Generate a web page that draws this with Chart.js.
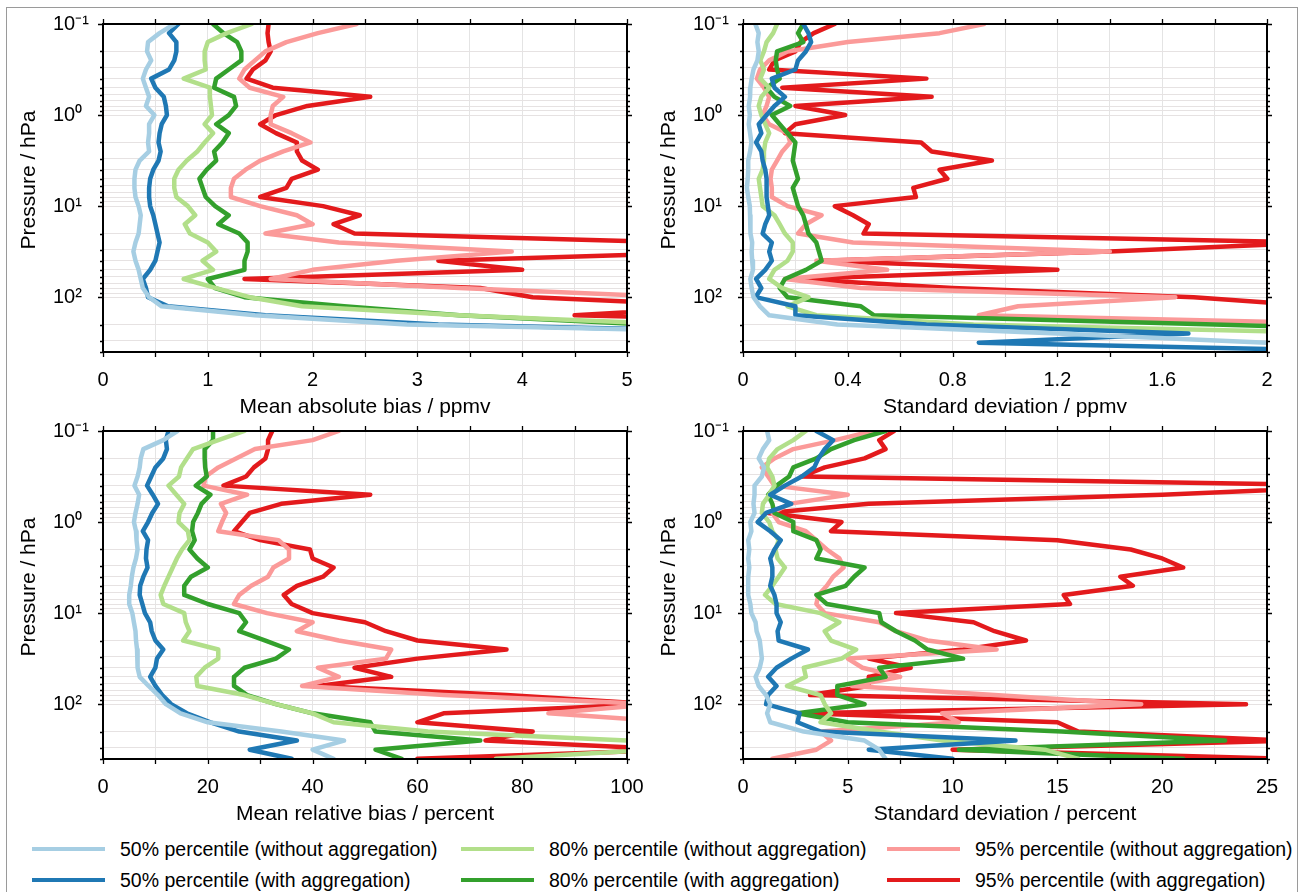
<!DOCTYPE html>
<html lang="en">
<head>
  <meta charset="utf-8">
  <title>Percentile profiles</title>
  <style>
    body { margin: 0; background: #fff; font-family: 'Liberation Sans', Arial, sans-serif; color: #000; }
    #fig { position: relative; width: 1303px; height: 892px; overflow: hidden; }
    #fig canvas { position: absolute; }
    .frame { position: absolute; left: 6px; top: 7px; width: 1290px; height: 900px; border: 1px solid #9a9a9a; }
    .ytitle { position: absolute; font-size: 21px; white-space: nowrap; transform: translate(-50%, -50%) rotate(-90deg); }
    .xtitle { position: absolute; font-size: 21px; white-space: nowrap; transform: translate(-50%, -50%); }
    .lg-line { position: absolute; width: 73px; height: 4px; margin-top: -2px; }
    .lg-text { position: absolute; font-size: 19.5px; white-space: nowrap; transform: translateY(-50%); }
  </style>
</head>

<body>
<div id="fig">
  <div class="frame"></div>
  <canvas id="c1" width="651" height="400" style="left:0;top:0"></canvas>
  <canvas id="c2" width="652" height="400" style="left:651px;top:0"></canvas>
  <canvas id="c3" width="651" height="410" style="left:0;top:400px"></canvas>
  <canvas id="c4" width="652" height="410" style="left:651px;top:400px"></canvas>

  <div class="ytitle" style="left:28px;top:180px">Pressure / hPa</div>
  <div class="ytitle" style="left:668px;top:180px">Pressure / hPa</div>
  <div class="ytitle" style="left:28px;top:587px">Pressure / hPa</div>
  <div class="ytitle" style="left:668px;top:587px">Pressure / hPa</div>

  <div class="xtitle" style="left:365px;top:406px">Mean absolute bias / ppmv</div>
  <div class="xtitle" style="left:1005px;top:406px">Standard deviation / ppmv</div>
  <div class="xtitle" style="left:365px;top:813px">Mean relative bias / percent</div>
  <div class="xtitle" style="left:1005px;top:813px">Standard deviation / percent</div>

  <div id="legend"></div>
</div>

<script src="https://cdn.jsdelivr.net/npm/chart.js"></script>
<script>
// pressure levels (hPa) shared by all profiles
const pressure = [0.1, 0.126, 0.158, 0.2, 0.251, 0.316, 0.398, 0.501, 0.631, 0.794,
  1, 1.26, 1.58, 2, 2.51, 3.16, 3.98, 5.01, 6.31, 7.94,
  10, 12.6, 15.8, 20, 25.1, 31.6, 39.8, 50.1, 63.1, 79.4,
  100, 126, 158, 200, 251, 316, 398];

const pressureTicks = [0.1, 0.2, 0.3, 0.4, 0.5, 0.6, 0.7, 0.8, 0.9,
  1, 2, 3, 4, 5, 6, 7, 8, 9, 10, 20, 30, 40, 50, 60, 70, 80, 90,
  100, 200, 300, 400];
const pressureLabels = {0.1: '10⁻¹', 1: '10⁰', 10: '10¹', 100: '10²'};

const seriesNames = [
  '50% percentile (without aggregation)', '50% percentile (with aggregation)',
  '80% percentile (without aggregation)', '80% percentile (with aggregation)',
  '95% percentile (without aggregation)', '95% percentile (with aggregation)'
];
const seriesColors = ['#a6cee3', '#1f78b4', '#b2df8a', '#33a02c', '#fb9a99', '#e31a1c'];

// mean absolute bias / ppmv
const absBias50 = [0.68, 0.54, 0.43, 0.42, 0.46, 0.41, 0.38, 0.41, 0.44, 0.41,
  0.49, 0.44, 0.44, 0.43, 0.44, 0.35, 0.31, 0.30, 0.30, 0.31,
  0.34, 0.36, 0.35, 0.34, 0.31, 0.29, 0.31, 0.34, 0.36, 0.38,
  0.44, 0.56, 1.45, 2.9, 7, 9, 10];
const absBias50agg = [0.72, 0.63, 0.70, 0.70, 0.68, 0.63, 0.46, 0.50, 0.58, 0.60,
  0.61, 0.56, 0.54, 0.53, 0.55, 0.53, 0.48, 0.45, 0.44, 0.44,
  0.45, 0.48, 0.50, 0.52, 0.54, 0.52, 0.50, 0.45, 0.38, 0.41,
  0.43, 0.62, 1.55, 3.2, 7, 9, 10];
const absBias80 = [1.42, 1.18, 1.00, 0.97, 0.97, 0.98, 0.77, 1.02, 1.02, 1.03,
  1.04, 0.97, 1.05, 0.97, 0.90, 0.80, 0.72, 0.68, 0.68, 0.70,
  0.81, 0.88, 0.78, 0.83, 1.00, 1.08, 0.95, 1.05, 0.77, 1.08,
  1.40, 1.90, 3.4, 5.5, 8, 10, 12];
const absBias80agg = [1.05, 1.15, 1.28, 1.32, 1.32, 1.20, 1.08, 1.06, 1.25, 1.27,
  1.20, 1.08, 1.20, 1.14, 1.06, 1.08, 0.99, 0.92, 0.95, 0.98,
  1.07, 1.20, 1.10, 1.30, 1.38, 1.38, 1.35, 1.35, 1.00, 1.07,
  1.35, 2.30, 3.4, 5.2, 8, 10, 12];
const absBias95 = [2.42, 2.05, 1.75, 1.55, 1.45, 1.35, 1.30, 1.40, 1.72, 1.62,
  1.60, 1.60, 1.80, 1.98, 1.72, 1.50, 1.36, 1.25, 1.22, 1.22,
  1.50, 1.85, 2.00, 1.55, 2.25, 3.90, 2.80, 2.00, 1.60, 3.40,
  5.5, 5.2, 7, 9, 10, 12, 12];
const absBias95agg = [1.58, 1.57, 1.58, 1.60, 1.55, 1.43, 1.37, 1.62, 2.55, 1.95,
  1.65, 1.50, 1.65, 1.85, 1.85, 1.90, 2.05, 1.80, 1.75, 1.50,
  2.10, 2.45, 2.20, 2.40, 5.5, 6.0, 3.2, 4.0, 1.35, 3.6,
  4.1, 6, 4.5, 8, 9, 10, 12];

// standard deviation / ppmv
const sdAbs50 = [0.047, 0.06, 0.055, 0.06, 0.055, 0.04, 0.033, 0.028, 0.027, 0.022,
  0.026, 0.022, 0.027, 0.032, 0.027, 0.02, 0.02, 0.018, 0.015, 0.02,
  0.026, 0.027, 0.027, 0.03, 0.035, 0.033, 0.035, 0.038, 0.028, 0.033,
  0.04, 0.065, 0.1, 0.36, 1.2, 2.0, 3.0];
const sdAbs50agg = [0.23, 0.25, 0.26, 0.24, 0.21, 0.20, 0.11, 0.12, 0.16, 0.12,
  0.09, 0.06, 0.07, 0.05, 0.07, 0.075, 0.085, 0.09, 0.09, 0.09,
  0.095, 0.10, 0.085, 0.075, 0.11, 0.10, 0.11, 0.085, 0.05, 0.07,
  0.048, 0.20, 0.20, 0.70, 1.70, 0.90, 2.5];
const sdAbs80 = [0.13, 0.115, 0.09, 0.08, 0.066, 0.08, 0.066, 0.10, 0.07, 0.06,
  0.07, 0.085, 0.10, 0.085, 0.08, 0.08, 0.075, 0.06, 0.065, 0.07,
  0.075, 0.12, 0.14, 0.16, 0.19, 0.19, 0.17, 0.12, 0.10, 0.15,
  0.25, 0.17, 0.28, 0.88, 2.4, 3, 4];
const sdAbs80agg = [0.23, 0.21, 0.23, 0.13, 0.125, 0.13, 0.14, 0.09, 0.12, 0.18,
  0.11, 0.14, 0.17, 0.20, 0.195, 0.19, 0.20, 0.21, 0.19, 0.20,
  0.21, 0.23, 0.24, 0.25, 0.28, 0.29, 0.30, 0.24, 0.16, 0.14,
  0.17, 0.45, 0.50, 1.8, 3, 4, 5];
const sdAbs95 = [0.92, 0.75, 0.40, 0.17, 0.10, 0.065, 0.053, 0.08, 0.10, 0.09,
  0.075, 0.10, 0.17, 0.18, 0.15, 0.13, 0.11, 0.105, 0.11, 0.11,
  0.17, 0.30, 0.24, 0.21, 0.42, 1.40, 0.28, 0.55, 0.16, 0.45,
  1.65, 1.05, 0.90, 2.5, 3, 3, 4];
const sdAbs95agg = [0.35, 0.27, 0.22, 0.20, 0.12, 0.10, 0.70, 0.15, 0.72, 0.20,
  0.39, 0.20, 0.16, 0.68, 0.72, 0.95, 0.75, 0.78, 0.65, 0.66,
  0.35, 0.42, 0.48, 0.46, 2.2, 1.4, 0.30, 1.20, 0.20, 0.80,
  1.72, 2.2, 2.5, 2.6, 3, 3, 4];

// mean relative bias / percent
const relBias50 = [14.2, 11.5, 7.7, 7.2, 7.0, 6.6, 6.0, 6.9, 6.6, 6.2,
  5.9, 6.3, 6.4, 6.6, 6.3, 5.8, 5.5, 5.3, 5.0, 5.0,
  5.6, 5.9, 6.2, 6.3, 6.5, 6.6, 6.6, 7.0, 8.7, 10.5,
  12, 14.8, 20, 34, 46, 40, 44];
const relBias50agg = [12.5, 12, 12.2, 11.5, 10, 9.2, 8.4, 9.5, 10.5, 9.4,
  8.6, 7.6, 8.6, 8.3, 8.2, 8.5, 7.7, 7.1, 7.0, 7.5,
  8, 9, 9.3, 10, 11.5, 10.3, 10, 9, 10, 11.3,
  13, 16, 20.5, 26, 37, 28, 36];
const relBias80 = [27, 22, 17.2, 16, 14.9, 14.5, 12.5, 14, 15.5, 14.6,
  14.4, 16.2, 16.5, 15.1, 14.1, 13.3, 12.5, 11.7, 11, 11.5,
  15.5, 15.8, 16.5, 15.3, 22, 22, 19.4, 17.8, 18, 27,
  33, 40, 44, 62, 100, 105, 75];
const relBias80agg = [21, 21, 19.4, 19.4, 19.5, 19.8, 17.7, 20.5, 18.8, 18.1,
  17.2, 17, 17.5, 16.5, 18, 20, 16.8, 15.5, 15.5, 20,
  26, 27.3, 26, 31, 35.5, 33, 27, 25, 25, 27.5,
  33, 40, 51, 52, 72, 52, 57];
const relBias95 = [45, 40, 29, 25.4, 22, 19.6, 19.2, 27.5, 22.5, 23.5,
  22.7, 22, 33.5, 35.5, 35.5, 32.5, 31.5, 28.3, 26, 25,
  31.3, 40, 37, 45, 55, 54, 41, 45, 38, 65,
  105, 85, 110, 120, 110, 115, 110];
const relBias95agg = [32.3, 31.5, 31.5, 31, 28.8, 27.3, 23, 51, 34, 28,
  26.5, 25, 30, 39.5, 40, 44, 42, 37, 34.5, 36,
  40, 50, 54, 60, 77, 60, 48, 55, 41, 77,
  105, 65, 60, 82, 73, 110, 60];

// standard deviation / percent
const sdRel50 = [1.15, 1.25, 0.95, 0.75, 1.0, 0.9, 0.55, 0.55, 0.5, 0.55,
  0.35, 0.4, 0.25, 0.3, 0.25, 0.3, 0.25, 0.25, 0.25, 0.35,
  0.4, 0.6, 0.65, 0.8, 0.85, 0.9, 0.8, 0.6, 0.75, 1.1,
  1.3, 1.15, 1.3, 2.9, 5.8, 6.5, 6.8];
const sdRel50agg = [3.5, 4.3, 3.9, 3.6, 3.4, 2.8, 2.0, 1.3, 2.3, 1.1,
  0.7, 1.3, 1.8, 1.5, 1.3, 1.4, 1.4, 1.3, 1.5, 1.6,
  1.6, 1.8, 1.65, 1.7, 3.1, 2.3, 1.6, 1.2, 1.6, 1.2,
  1.1, 2.7, 2.6, 3.7, 13, 6, 10];
const sdRel80 = [3.0, 2.4, 1.65, 1.25, 1.15, 1.4, 1.5, 1.25, 0.95, 0.9,
  1.25, 1.4, 1.7, 1.55, 1.65, 2.0, 1.7, 1.4, 1.05, 1.55,
  3.7, 4.6, 3.9, 4.2, 5.4, 4.7, 2.9, 3.0, 2.1, 3.7,
  3.9, 4.2, 3.7, 6.5, 9.5, 14.4, 16];
const sdRel80agg = [6.8, 5.3, 4.2, 3.5, 2.4, 2.2, 1.6, 1.2, 1.4, 1.5,
  2.4, 2.4, 3.5, 3.7, 3.5, 5.8, 5.3, 4.9, 3.5, 4.0,
  6.5, 6.6, 7.3, 8.2, 8.8, 10.5, 6.5, 6.8, 4.5, 4.5,
  5.8, 2.6, 5.0, 15.2, 23, 10.3, 21];
const sdRel95 = [6.2, 4.4, 2.4, 1.5, 0.9, 1.2, 1.5, 5.0, 2.2, 1.4,
  1.7, 3.0, 3.5, 4.0, 4.6, 4.8, 4.3, 4.0, 3.6, 3.5,
  3.9, 6.5, 7.3, 8.8, 12.1, 5.0, 5.7, 7.5, 5.2, 12,
  19, 9.5, 10.3, 3.7, 4.2, 3.5, 1.4];
const sdRel95agg = [7.2, 6.5, 6.8, 5.8, 3.9, 2.8, 30, 20, 6.0, 1.2,
  4.7, 4.2, 15, 18.5, 20, 21, 18, 18.6, 15.3, 15.6,
  7.3, 11, 12, 13.5, 10.5, 6, 8, 6, 6, 3.2,
  24, 3, 15, 16, 26, 10, 26];

const FONT = "'Liberation Sans', Arial, sans-serif";

// frame and outward tick marks on all four sides
const framePlugin = {
  id: 'frame',
  afterDraw(chart) {
    const {ctx, chartArea: a} = chart;
    const xs = chart.scales.x, ys = chart.scales.y;
    ctx.save();
    ctx.strokeStyle = '#000';
    ctx.lineWidth = 1.3;
    ctx.beginPath();
    xs.ticks.forEach(t => {
      const px = Math.round(xs.getPixelForValue(t.value)) + 0.5;
      ctx.moveTo(px, a.bottom); ctx.lineTo(px, a.bottom + 5);
      ctx.moveTo(px, a.top); ctx.lineTo(px, a.top - 5);
    });
    ys.ticks.forEach(t => {
      const py = Math.round(ys.getPixelForValue(t.value)) + 0.5;
      const len = pressureLabels[t.value] ? 5 : 3;
      ctx.moveTo(a.left, py); ctx.lineTo(a.left - len, py);
      ctx.moveTo(a.right, py); ctx.lineTo(a.right + len, py);
    });
    ctx.stroke();
    ctx.lineWidth = 2;
    ctx.strokeRect(a.left, a.top, a.right - a.left, a.bottom - a.top);
    ctx.restore();
  }
};

function makePanel(id, opt) {
  const canvas = document.getElementById(id);
  const H = canvas.height;
  const datasets = opt.series.map((vals, i) => ({
    label: seriesNames[i],
    data: vals.map((v, k) => ({x: v, y: pressure[k]})),
    borderColor: seriesColors[i],
    backgroundColor: seriesColors[i],
    borderWidth: 4.5,
    borderJoinStyle: 'round',
    borderCapStyle: 'round',
    pointRadius: 0,
    showLine: true,
    fill: false,
    tension: 0
  }));
  return new Chart(canvas, {
    type: 'scatter',
    data: {datasets},
    options: {
      responsive: false,
      animation: false,
      events: [],
      layout: {padding: {left: opt.padLeft, right: opt.padRight, top: opt.top, bottom: 0}},
      plugins: {legend: {display: false}, tooltip: {enabled: false}},
      scales: {
        x: {
          type: 'linear',
          min: 0,
          max: opt.xMax,
          afterFit: s => { s.height = H - opt.bottom; s.paddingLeft = 0; s.paddingRight = 0; },
          grid: {color: '#e4e4e4', lineWidth: 1, drawTicks: false},
          border: {display: false},
          ticks: {
            stepSize: opt.xStep,
            autoSkip: false,
            maxRotation: 0,
            padding: 16,
            color: '#000',
            font: {family: FONT, size: 20},
            callback: v => {
              const r = v / opt.labelStep;
              return Math.abs(r - Math.round(r)) < 1e-6 ? String(Math.round(v * 10) / 10) : '';
            }
          }
        },
        y: {
          type: 'logarithmic',
          reverse: true,
          min: 0.1,
          max: 400,
          afterBuildTicks: s => { s.ticks = pressureTicks.map(v => ({value: v})); },
          afterFit: s => { s.width = 50; s.paddingTop = 0; s.paddingBottom = 0; },
          grid: {color: '#e6e2e2', lineWidth: 1, drawTicks: false},
          border: {display: false},
          ticks: {
            autoSkip: false,
            crossAlign: 'far',
            padding: 0,
            color: '#000',
            font: {family: FONT, size: 20},
            callback: v => pressureLabels[v] || ''
          }
        }
      }
    },
    plugins: [framePlugin]
  });
}

makePanel('c1', {xMax: 5, xStep: 0.5, labelStep: 1, padLeft: 53, padRight: 24, top: 24, bottom: 352,
  series: [absBias50, absBias50agg, absBias80, absBias80agg, absBias95, absBias95agg]});
makePanel('c2', {xMax: 2, xStep: 0.2, labelStep: 0.4, padLeft: 42, padRight: 36, top: 24, bottom: 352,
  series: [sdAbs50, sdAbs50agg, sdAbs80, sdAbs80agg, sdAbs95, sdAbs95agg]});
makePanel('c3', {xMax: 100, xStep: 10, labelStep: 20, padLeft: 53, padRight: 24, top: 31, bottom: 359,
  series: [relBias50, relBias50agg, relBias80, relBias80agg, relBias95, relBias95agg]});
makePanel('c4', {xMax: 25, xStep: 2.5, labelStep: 5, padLeft: 42, padRight: 36, top: 31, bottom: 359,
  series: [sdRel50, sdRel50agg, sdRel80, sdRel80agg, sdRel95, sdRel95agg]});

// legend: three columns, two rows
const legendCols = [32, 461, 887];
const legendRows = [849, 880];
const legend = document.getElementById('legend');
seriesNames.forEach((name, i) => {
  const col = Math.floor(i / 2), row = i % 2;
  const line = document.createElement('div');
  line.className = 'lg-line';
  line.style.left = legendCols[col] + 'px';
  line.style.top = legendRows[row] + 'px';
  line.style.background = seriesColors[i];
  const text = document.createElement('div');
  text.className = 'lg-text';
  text.style.left = (legendCols[col] + 88) + 'px';
  text.style.top = legendRows[row] + 'px';
  text.textContent = name;
  legend.appendChild(line);
  legend.appendChild(text);
});
</script>
</body>

</html>
